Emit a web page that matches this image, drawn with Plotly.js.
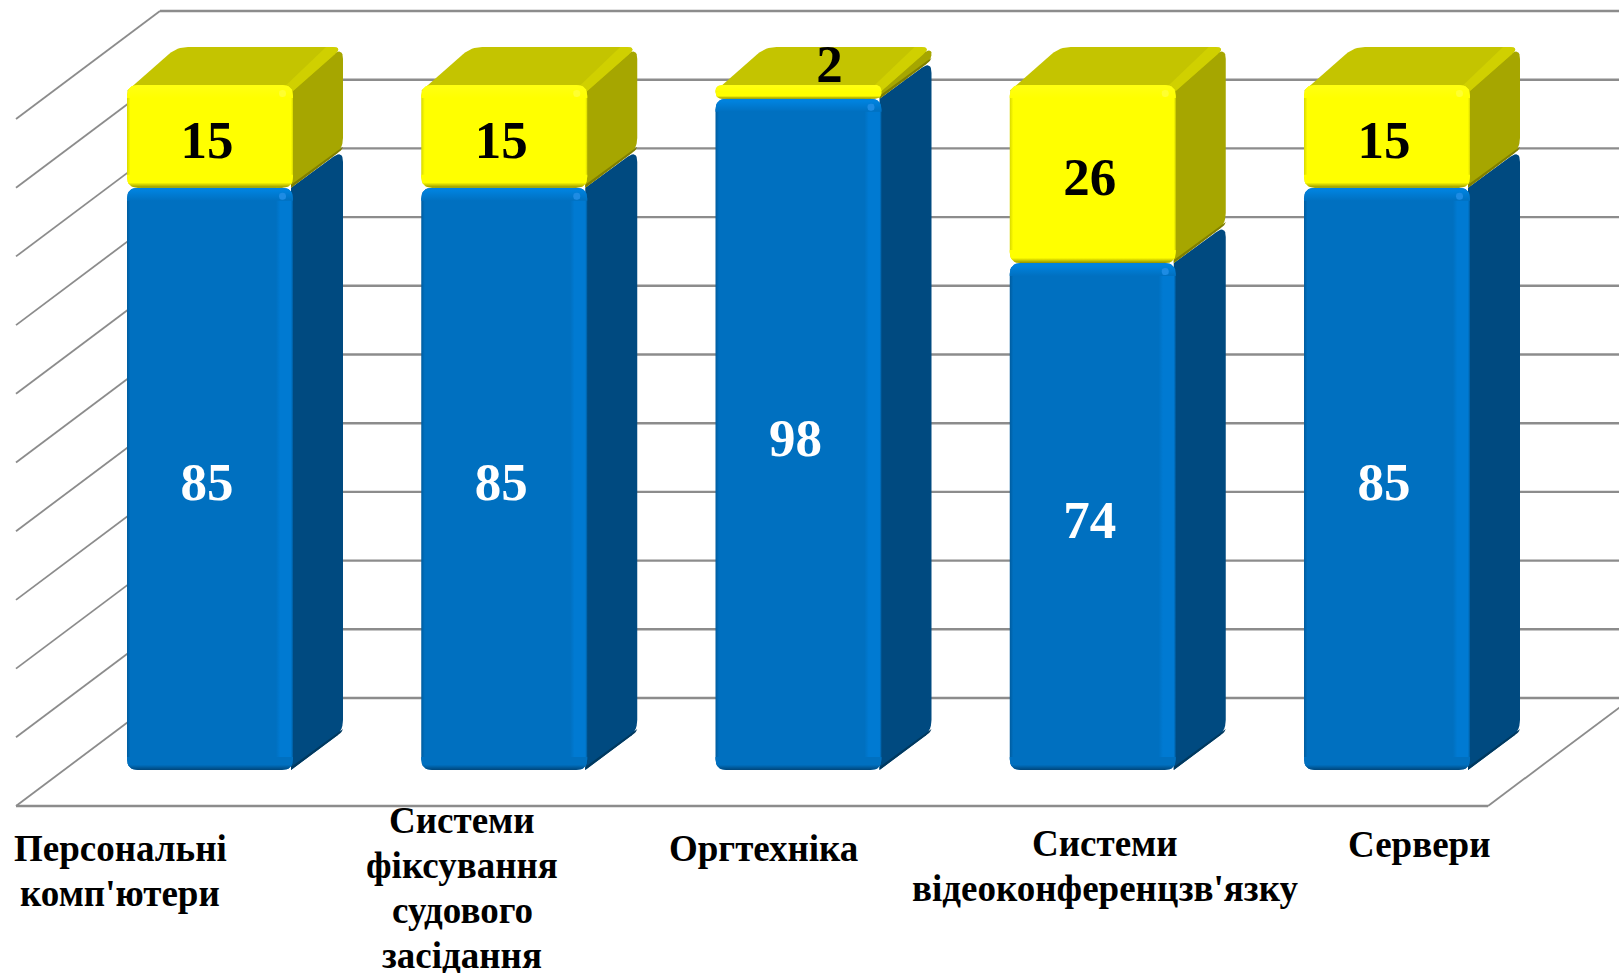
<!DOCTYPE html>
<html>
<head>
<meta charset="utf-8">
<script src="https://cdn.plot.ly/plotly-3.0.1.min.js"></script>
<style>html,body{margin:0;padding:0;background:#fff}#chart{width:1619px;height:973px}</style>
</head>
<body>
<div id="chart"></div>
<script>
// ---- data ----
const categories = [["Персональні", "комп'ютери"], ["Системи", "фіксування", "судового", "засідання"], ["Оргтехніка"], ["Системи", "відеоконференцзв'язку"], ["Сервери"]];
const blueValues = [85, 85, 98, 74, 85];
const yellowValues = [15, 15, 2, 26, 15];
const gridTicks = [0, 10, 20, 30, 40, 50, 60, 70, 80, 90, 100];
const categoryLabelCenterPx = [120, 462, 763, 1105, 1419];
const categoryLabelMiddlePx = [871, 888, 848, 866, 844];

// ---- scale: px per data unit ----
const WIDTH = 1619, HEIGHT = 973;
const sx = 294.25, sy = 6.85;          // px per category step, px per percent
const originPx = 210, basePx = 770;    // px of category 0 and of value 0 on the bar plane
const xRange = [-originPx / sx, (WIDTH - originPx) / sx];
const yRange = [(basePx - HEIGHT) / sy, basePx / sy];
const xd = px => px / sx, yd = px => px / sy;
const toX = px => (px - originPx) / sx, toY = py => (basePx - py) / sy;

const BAR_W = xd(166), DEPTH_X = xd(50), DEPTH_Y = yd(38);
const FRONT_Y = toY(806), BACK_Y = toY(698), GRID_SCALE = 68.7 / 68.5;
const LEFT_FRONT = toX(16), LEFT_BACK = toX(160), RIGHT_FRONT = toX(1488), RIGHT_BACK = toX(1632);
const CORNER = 11;

const BLUE = {base:'#0070C0', light:'#007AD2', top:'#0082DE', dark:'#00467A', edge:'#005C9E', side:'#004A80', sideEdge:'#00395F', spot:'#1E8CE4'};
const YEL  = {base:'#FFFF00', light:'#FFFF00', top:'#FFFF10', dark:'#8F8F00', edge:'#D8D800', side:'#A6A600', sideEdge:'#7F7F00', spot:'#FFFF30', topFace:'#C4C400', topBand:'#D0D000'};

// rounded polygon: points in data units, radii in px
function roundPoly(pts, radii) {
  const xs = [], ys = [], n = pts.length;
  for (let i = 0; i < n; i++) {
    const ia = (i + n - 1) % n, ib = (i + 1) % n;
    const p = [pts[i][0] * sx, pts[i][1] * sy];
    const a = [pts[ia][0] * sx, pts[ia][1] * sy];
    const b = [pts[ib][0] * sx, pts[ib][1] * sy];
    const r = radii[i];
    if (!r) { xs.push(p[0] / sx); ys.push(p[1] / sy); continue; }
    const la = Math.hypot(a[0] - p[0], a[1] - p[1]), lb = Math.hypot(b[0] - p[0], b[1] - p[1]);
    const ra = Math.min(r, radii[ia] ? la / 2 : la), rb = Math.min(r, radii[ib] ? lb / 2 : lb);
    const s = [p[0] + (a[0] - p[0]) * ra / la, p[1] + (a[1] - p[1]) * ra / la];
    const e = [p[0] + (b[0] - p[0]) * rb / lb, p[1] + (b[1] - p[1]) * rb / lb];
    for (let k = 0; k <= 8; k++) {
      const t = k / 8, u = 1 - t;
      xs.push((u * u * s[0] + 2 * u * t * p[0] + t * t * e[0]) / sx);
      ys.push((u * u * s[1] + 2 * u * t * p[1] + t * t * e[1]) / sy);
    }
  }
  xs.push(xs[0]); ys.push(ys[0]);
  return {x: xs, y: ys};
}
function poly(pts, radii, color, gradient) {
  const g = roundPoly(pts, radii);
  const t = {type:'scatter', mode:'lines', x:g.x, y:g.y, fill:'toself', line:{width:0, color:color}, fillcolor:color, hoverinfo:'skip', showlegend:false};
  if (gradient) t.fillgradient = gradient;
  return t;
}
const grad = (type, stops) => ({type, colorscale: stops});

const traces = [
  {type:'bar', name:'blue', x:[0,1,2,3,4], y:blueValues, width:BAR_W - xd(2 * CORNER), marker:{color:BLUE.base, line:{width:0}}, hoverinfo:'skip', showlegend:false},
  {type:'bar', name:'yellow', x:[0,1,2,3,4], y:yellowValues, width:BAR_W - xd(2 * CORNER), marker:{color:YEL.base, line:{width:0}}, hoverinfo:'skip', showlegend:false}
];

function side(i, y0, y1, pal, R) {
  const xr = i + BAR_W / 2, dx = DEPTH_X, dy = DEPTH_Y;
  traces.push(poly([[xr - xd(2), y0], [xr + dx, y0 + dy], [xr + dx, y1 + dy], [xr - xd(2), y1]], [0, R, R, 0], pal.side));
  const b = yd(Math.min(3, (y1 - y0) * sy / 3));
  traces.push(poly([[xr - xd(2), y0], [xr + dx, y0 + dy], [xr + dx, y0 + dy + b], [xr - xd(2), y0 + b]], [0, R, 0, 0], pal.sideEdge));
}
function frontFace(i, y0, y1, pal) {
  const xl = i - BAR_W / 2, xr = i + BAR_W / 2, h = (y1 - y0) * sy;
  const r = Math.min(CORNER, h / 2), lw = xd(CORNER + 3), rw = xd(CORNER + 6);
  const stripT = yd(Math.min(CORNER + 2, h / 2)), stripB = yd(Math.min(CORNER + 2, h / 2));
  traces.push(poly([[xl, y0], [xl + lw, y0], [xl + lw, y1], [xl, y1]], [r, 0, 0, r], pal.base,
    grad('horizontal', [[0, pal.edge], [0.25, pal.base], [1, pal.base]])));
  traces.push(poly([[xr - rw, y0], [xr, y0], [xr, y1], [xr - rw, y1]], [0, r, r, 0], pal.light,
    grad('horizontal', [[0, pal.base], [0.25, pal.light], [0.88, pal.light], [1, pal.edge]])));
  traces.push(poly([[xl, y1 - stripT], [xr, y1 - stripT], [xr, y1], [xl, y1]], [0, 0, r, r], pal.top,
    grad('vertical', [[0, pal.base], [0.8, pal.top], [1, pal.top]])));
  traces.push(poly([[xl, y0], [xr, y0], [xr, y0 + stripB], [xl, y0 + stripB]], [r, r, 0, 0], pal.dark,
    grad('vertical', [[0, pal.dark], [0.4, pal.base], [1, pal.base]])));
  if (h > 30) {
    traces.push(poly([[xr - xd(14), y1 - yd(12)], [xr - xd(7), y1 - yd(12)], [xr - xd(7), y1 - yd(5)], [xr - xd(14), y1 - yd(5)]], [3, 3, 3, 3], pal.spot));
  }
}
function topFace(i, y1, pal) {
  const xl = i - BAR_W / 2, xr = i + BAR_W / 2, dx = DEPTH_X, dy = DEPTH_Y;
  traces.push(poly([[xl, y1 - yd(6)], [xr, y1 - yd(6)], [xr + dx, y1 + dy], [xl + dx, y1 + dy]], [0, 0, CORNER, CORNER], pal.topFace));
  traces.push(poly([[xr - xd(13), y1 - yd(6)], [xr, y1 - yd(6)], [xr + dx, y1 + dy], [xr + dx - xd(17), y1 + dy]], [0, 0, CORNER, 0], pal.topBand));
}

blueValues.forEach((b, i) => {
  const t = b + yellowValues[i];
  side(i, 0, b, BLUE, 12);
  frontFace(i, 0, b, BLUE);
  side(i, b, t, YEL, 12);
  topFace(i, t, YEL);
  frontFace(i, b, t, YEL);
});

// value labels: centred on the front face; a slice too thin to hold its label writes it on the top face
const LABEL_NUDGE_X = xd(-3), LABEL_NUDGE_Y = yd(-8), THIN_NUDGE_Y = yd(-3);
traces.push({type:'scatter', mode:'text', x:blueValues.map((v, i) => i + LABEL_NUDGE_X), y:blueValues.map(v => v / 2 + LABEL_NUDGE_Y),
  text:blueValues.map(String), textposition:'middle center', textfont:{family:'"Liberation Serif", serif', size:53, color:'#FFFFFF', weight:'bold'}, hoverinfo:'skip', showlegend:false});
traces.push({type:'scatter', mode:'text',
  x:yellowValues.map((v, i) => v < 5 ? i + DEPTH_X * 0.62 : i + LABEL_NUDGE_X),
  y:yellowValues.map((v, i) => v < 5 ? blueValues[i] + v + DEPTH_Y / 2 + THIN_NUDGE_Y : blueValues[i] + v / 2 + LABEL_NUDGE_Y),
  text:yellowValues.map(String), textposition:'middle center', textfont:{family:'"Liberation Serif", serif', size:53, color:'#000000', weight:'bold'}, hoverinfo:'skip', showlegend:false});

// walls and floor
const GRID = '#8C8C8C';
const wallOffset = BACK_Y, frontOffset = FRONT_Y;
const shapes = [];
gridTicks.forEach(t => {
  const v = t * GRID_SCALE;
  shapes.push({type:'line', layer:'below', xref:'x', yref:'y', x0:LEFT_BACK, x1:RIGHT_BACK, y0:v + wallOffset, y1:v + wallOffset, line:{color:GRID, width:2.4}});
  shapes.push({type:'line', layer:'below', xref:'x', yref:'y', x0:LEFT_FRONT, x1:LEFT_BACK, y0:v + frontOffset, y1:v + wallOffset, line:{color:GRID, width:1.8}});
});
shapes.push({type:'line', layer:'below', xref:'x', yref:'y', x0:LEFT_FRONT, x1:RIGHT_FRONT, y0:frontOffset, y1:frontOffset, line:{color:GRID, width:2.4}});
shapes.push({type:'line', layer:'below', xref:'x', yref:'y', x0:RIGHT_FRONT, x1:RIGHT_BACK, y0:frontOffset, y1:wallOffset, line:{color:GRID, width:1.8}});

// category labels: one annotation per line for the reference's tight 45px leading
const LINE_GAP = 45;
const annotations = [];
categories.forEach((lines, i) => {
  lines.forEach((txt, k) => {
    annotations.push({
      xref:'x', yref:'y', x:toX(categoryLabelCenterPx[i]),
      y:toY(categoryLabelMiddlePx[i] + (k - (lines.length - 1) / 2) * LINE_GAP),
      text:'<b>' + txt + '</b>', showarrow:false, xanchor:'center', yanchor:'middle', align:'center',
      font:{family:'"Liberation Serif", serif', size:37, color:'#000000'}
    });
  });
});

const layout = {
  width:WIDTH, height:HEIGHT, autosize:false, margin:{l:0, r:0, t:0, b:0, pad:0},
  paper_bgcolor:'#FFFFFF', plot_bgcolor:'#FFFFFF', barmode:'stack', showlegend:false, hovermode:false,
  xaxis:{range:xRange, visible:false, fixedrange:true},
  yaxis:{range:yRange, visible:false, fixedrange:true},
  shapes, annotations
};
Plotly.newPlot('chart', traces, layout, {displayModeBar:false, staticPlot:true});
</script>
</body>
</html>
